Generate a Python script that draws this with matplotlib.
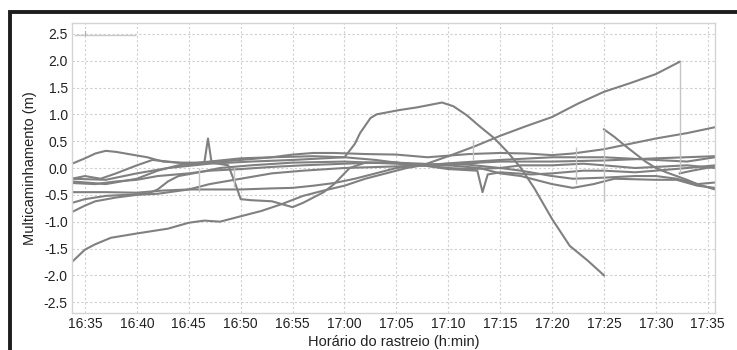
import matplotlib
matplotlib.use("Agg")
import matplotlib.pyplot as plt
from matplotlib.patches import Rectangle

plt.rcParams['font.family'] = ['Liberation Sans', 'DejaVu Sans']

# time axis in minutes after 16:35
tick_pos = [0, 5, 10, 15, 20, 25, 30, 35, 40, 45, 50, 55, 60]
tick_labels = ['16:35', '16:40', '16:45', '16:50', '16:55', '17:00', '17:05',
               '17:10', '17:15', '17:20', '17:25', '17:30', '17:35']
y_ticks = [2.5, 2.0, 1.5, 1.0, 0.5, 0.0, -0.5, -1.0, -1.5, -2.0, -2.5]

# multipath series (minute, metres)
s1_t = [-1.25, 0, 1, 2.5, 5, 8, 10, 11.5, 13, 15, 17, 19, 21, 23, 25, 27, 29, 31, 32.5,
        35, 37.5, 40, 42.5, 45, 47.5, 50, 52.5, 55, 57.3]
s1_v = [-1.75, -1.52, -1.42, -1.3, -1.22, -1.13, -1.02, -0.98, -1.0, -0.9, -0.8, -0.67,
        -0.52, -0.42, -0.33, -0.2, -0.1, 0.0, 0.05, 0.22, 0.4, 0.6, 0.78, 0.95, 1.2,
        1.42, 1.58, 1.75, 1.98]
s1b_t = [57.3, 58.5, 60.7]
s1b_v = [-0.1, -0.05, 0.03]

s2_t = [-1.25, 2, 5, 8, 12, 16, 20, 23, 25, 26, 26.5, 27.5, 28.1, 30.3, 32, 34.4, 35.5,
        36.8, 38, 39.4, 40.7, 42, 43.3, 45, 46.7, 48.4, 50]
s2_v = [-0.2, -0.22, -0.1, 0.0, 0.08, 0.12, 0.15, 0.18, 0.2, 0.45, 0.65, 0.93, 1.0,
        1.08, 1.13, 1.22, 1.15, 0.98, 0.78, 0.56, 0.3, 0.0, -0.38, -0.95, -1.45, -1.72, -2.0]
s2b_t = [50, 51, 52, 53, 54, 55, 56, 57, 58, 59, 60, 60.7]
s2b_v = [0.72, 0.58, 0.42, 0.27, 0.12, 0.0, -0.08, -0.15, -0.22, -0.3, -0.36, -0.4]

s3_t = [-1.25, 0, 1, 2, 3, 4.5, 6, 7.5, 9, 11, 13, 15, 18, 20, 22, 24, 27, 30, 33, 35,
        37, 40, 42.5, 45, 47, 50, 52.5, 55, 58, 60.7]
s3_v = [0.08, 0.18, 0.27, 0.32, 0.3, 0.25, 0.2, 0.12, 0.1, 0.1, 0.12, 0.15, 0.2, 0.25,
        0.28, 0.28, 0.26, 0.25, 0.2, 0.23, 0.26, 0.28, 0.27, 0.24, 0.27, 0.35, 0.45,
        0.55, 0.65, 0.76]

s4_t = [-1.25, 2, 5, 7, 9, 11.5, 11.85, 12.2, 13.8, 14.5, 15, 16, 18, 20, 21, 22, 23,
        24, 24.5, 25.5, 27, 30, 32.5, 35, 38, 40, 42, 45, 47, 49, 51, 55, 57, 59, 60.7]
s4_v = [-0.25, -0.3, -0.2, -0.05, 0.05, 0.1, 0.55, 0.1, 0.05, -0.3, -0.58, -0.6,
        -0.62, -0.73, -0.65, -0.55, -0.45, -0.3, -0.2, 0.0, 0.1, 0.1, 0.08, 0.05, 0.0,
        -0.1, -0.15, -0.3, -0.37, -0.3, -0.2, -0.22, -0.22, -0.33, -0.37]

s5_t = [-1.25, 2, 5, 7.5, 10, 12, 15, 18, 20, 22, 24, 26, 28, 30, 32.5, 35, 37, 40, 42,
        45, 47, 50, 53, 55, 57, 59, 60.7]
s5_v = [-0.45, -0.45, -0.46, -0.42, -0.4, -0.4, -0.4, -0.38, -0.37, -0.33, -0.28, -0.2,
        -0.1, 0.0, 0.05, 0.08, 0.06, 0.0, -0.05, -0.15, -0.2, -0.18, -0.15, -0.15, -0.2,
        -0.3, -0.27]

s6_t = [-1.25, 0, 2, 4, 6, 7, 8, 9, 11, 13, 16, 20, 25, 30, 32.5, 35, 38, 40, 45, 50,
        55, 60.7]
s6_v = [-0.65, -0.58, -0.52, -0.5, -0.48, -0.4, -0.25, -0.15, -0.08, 0.0, 0.05, 0.1,
        0.12, 0.08, 0.05, 0.05, 0.1, 0.12, 0.12, 0.14, 0.18, 0.22]

s7_t = [-1.25, 0, 1, 3, 5, 7, 10, 12, 15, 18, 21, 25, 30, 32.5, 36, 40, 45, 50, 55, 58,
        60.7]
s7_v = [-0.82, -0.7, -0.62, -0.55, -0.5, -0.48, -0.4, -0.3, -0.2, -0.1, -0.05, 0.0,
        0.03, 0.05, 0.1, 0.15, 0.2, 0.2, 0.15, 0.12, 0.2]

s8_t = [-1.25, 0, 1.5, 3, 5, 6.5, 8, 10, 12, 15, 18, 22, 25, 28, 30, 32.5, 35, 37, 40,
        42, 45, 48, 50, 53, 55, 58, 60.7]
s8_v = [-0.2, -0.15, -0.2, -0.1, 0.05, 0.15, 0.12, 0.08, 0.12, 0.18, 0.2, 0.22, 0.2,
        0.15, 0.1, 0.05, 0.0, -0.02, 0.0, 0.05, 0.05, 0.08, 0.05, 0.0, 0.02, 0.05, 0.0]

s9_t = [-1.25, 1, 3, 5, 7, 10, 12, 15, 18, 21, 25, 28, 30, 32.5, 35, 37.8, 38.3, 38.8,
        40, 43, 45, 48, 50, 53, 55, 58, 60.7]
s9_v = [-0.28, -0.3, -0.25, -0.22, -0.15, -0.1, -0.05, -0.02, 0.02, 0.05, 0.08, 0.1,
        0.1, 0.05, -0.02, -0.05, -0.45, -0.12, -0.08, -0.12, -0.1, -0.05, -0.05, -0.08,
        -0.05, 0.0, 0.05]

series = [(s1_t, s1_v), (s1b_t, s1b_v), (s2_t, s2_v), (s2b_t, s2b_v), (s3_t, s3_v),
          (s4_t, s4_v), (s5_t, s5_v), (s6_t, s6_v), (s7_t, s7_v), (s8_t, s8_v),
          (s9_t, s9_v)]

# thin connecting jumps (minute, from, to)
jump_t = [57.3, 50, 37.4, 47.3, 11.0, 14.4]
jump_lo = [-0.1, -0.63, 0.15, -0.3, -0.45, -0.35]
jump_hi = [1.98, 0.72, 0.52, 0.4, 0.0, 0.0]

fig = plt.figure(figsize=(7.37, 3.5), dpi=100)
ax = fig.add_axes([0.0977, 0.106, 0.8725, 0.828])

line_col = '#808080'
for t, v in series:
    ax.plot(t, v, color=line_col, lw=1.5, solid_joinstyle='round')
ax.vlines(jump_t, jump_lo, jump_hi, colors='#c4c4c4', lw=1.0)

# short reference line at the top left
ax.plot([-1.0, 4.8], [2.47, 2.47], color='#c8c8c8', lw=1.0)
ax.plot([0, 0], [2.47, 2.56], color='#b0b0b0', lw=0.8)

ax.set_xlim(-1.25, 60.7)
ax.set_ylim(-2.7, 2.7)
ax.set_xticks(tick_pos)
ax.set_xticklabels(tick_labels)
ax.set_yticks(y_ticks)
ax.set_yticklabels(['%.1f' % y for y in y_ticks])
ax.tick_params(length=0, labelsize=10, colors='#222222', pad=3)
ax.grid(True, color='#cfcfcf', linestyle=(0, (2, 2)), lw=0.8)
ax.set_axisbelow(True)
for sp in ax.spines.values():
    sp.set_color('#d4d4d4')
    sp.set_linewidth(1.0)

ax.set_xlabel('Horário do rastreio (h:min)', fontsize=10.5, color='#222222', labelpad=3)
ax.set_ylabel('Multicaminhamento (m)', fontsize=10.5, color='#222222', labelpad=5)

# outer black frame (extends past the right and bottom edges)
fig.patches.append(Rectangle((9.5 / 737, -0.2), 1.2, 1 - 12.5 / 350 + 0.2,
                             transform=fig.transFigure, fill=False,
                             edgecolor='#1e1e1e', lw=2.8))

fig.savefig('out.png', dpi=100)
